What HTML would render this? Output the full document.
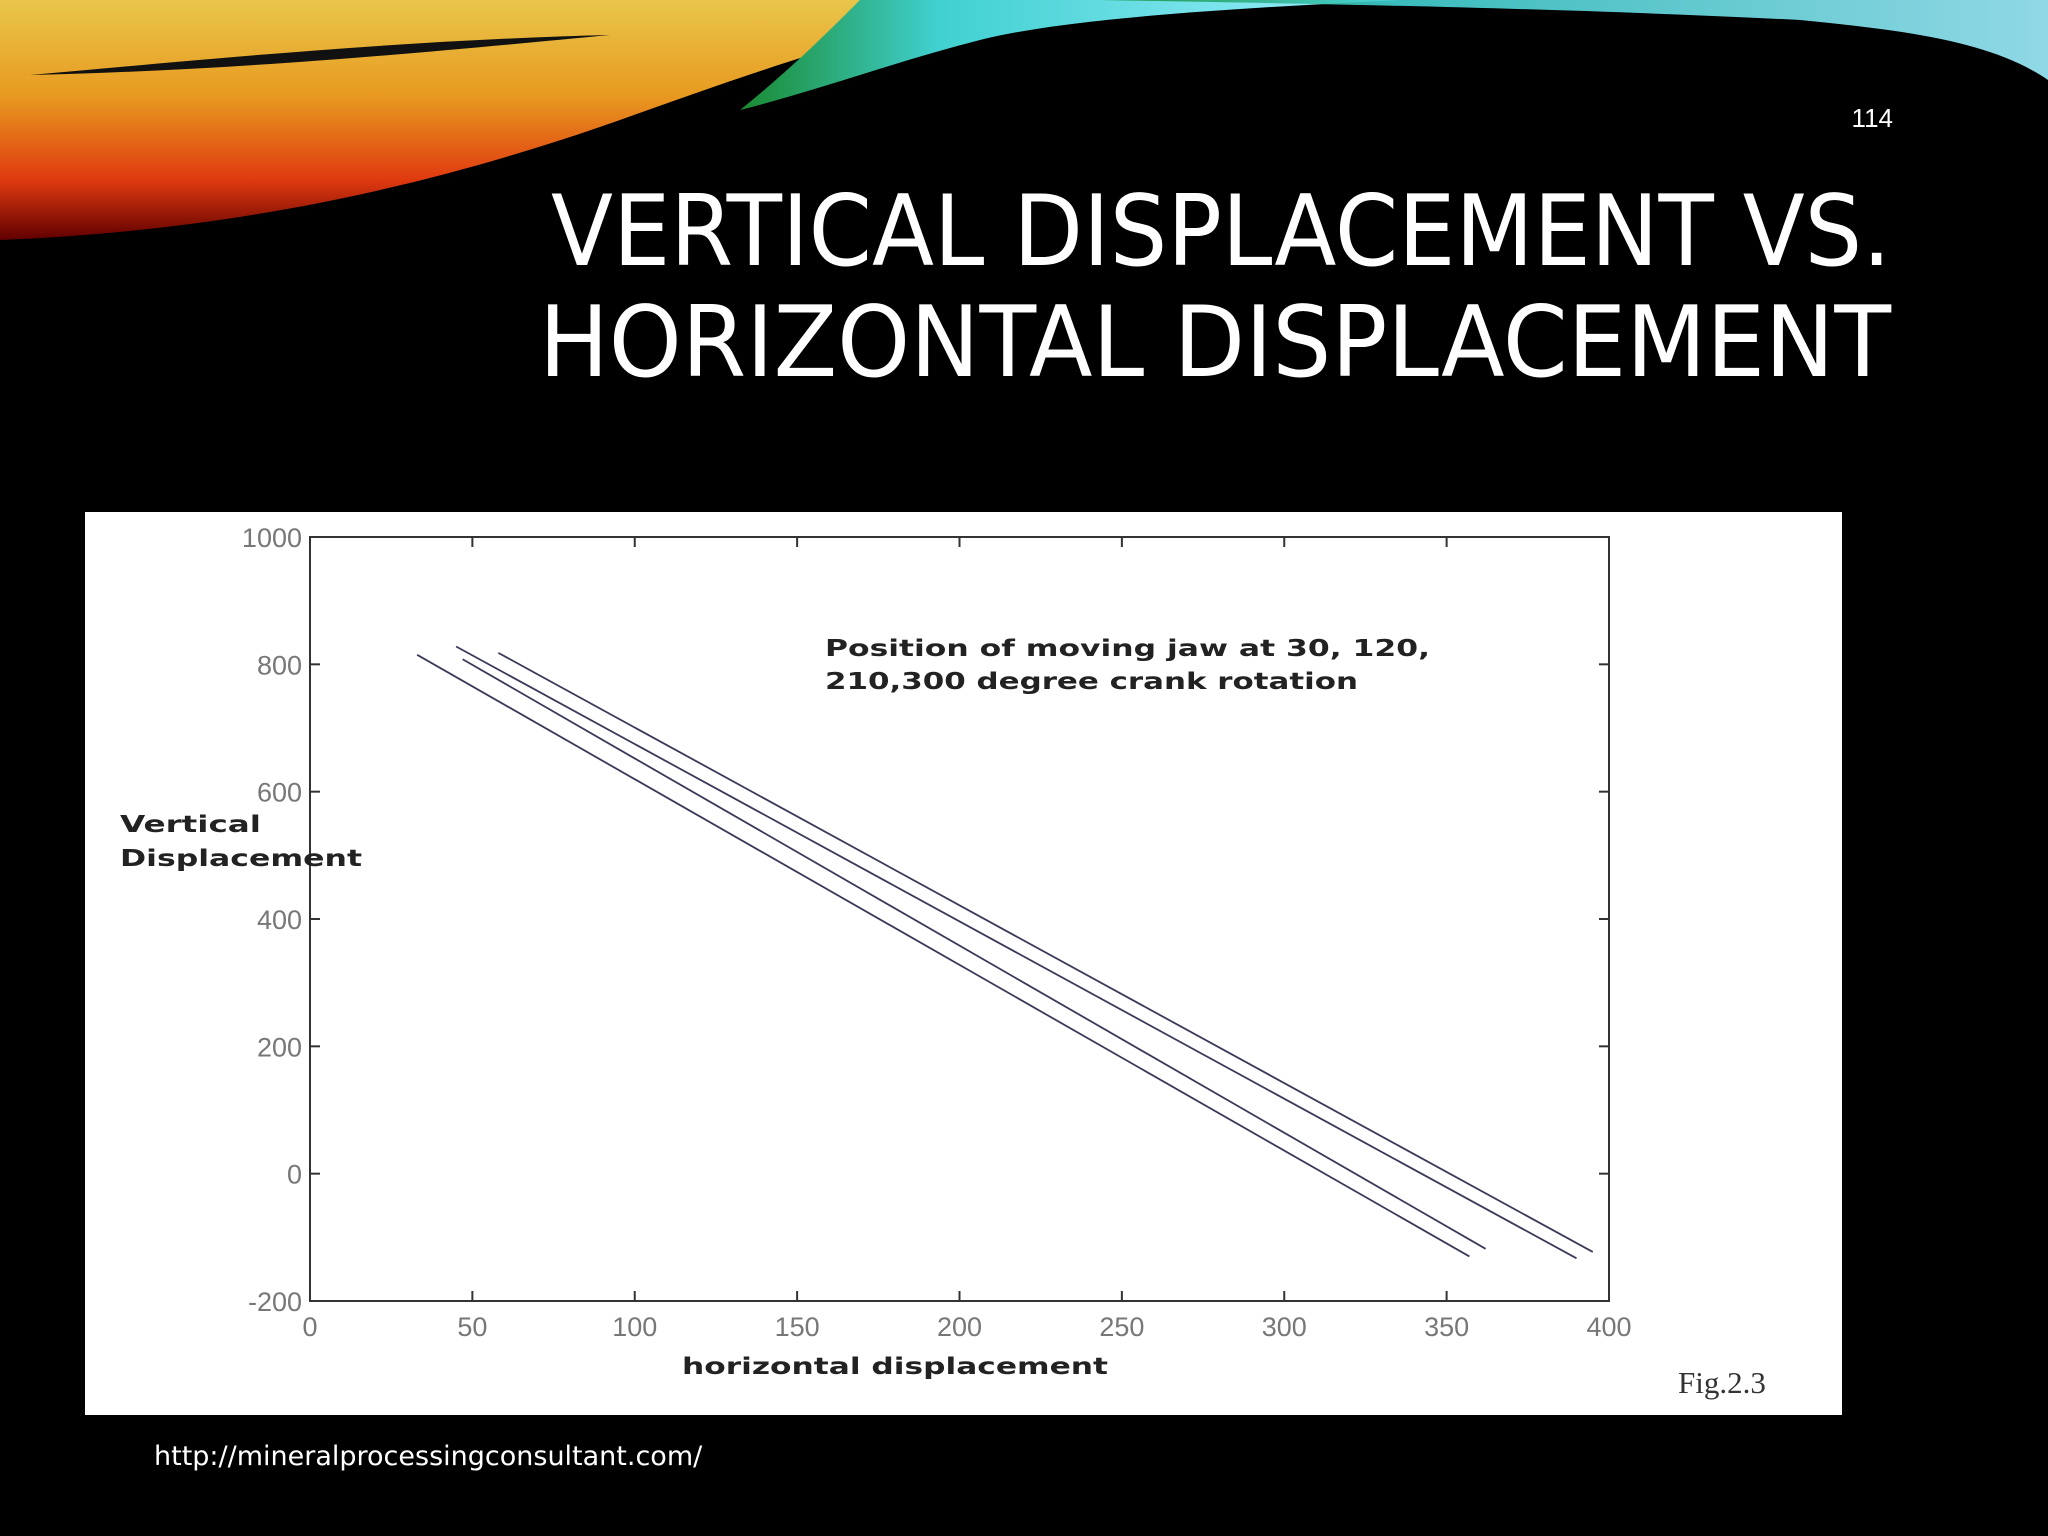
<!DOCTYPE html>
<html><head><meta charset="utf-8"><style>
html,body{margin:0;padding:0;background:#000;}
#root{position:relative;width:2048px;height:1536px;overflow:hidden;background:#000;font-family:"Liberation Sans",sans-serif;}
</style></head><body>
<div id="root">
<svg width="2048" height="1536" style="position:absolute;left:0;top:0">
<defs>
<linearGradient id="warm" x1="0" y1="0" x2="0" y2="1">
<stop offset="0" stop-color="#e8c64a"/><stop offset="0.4" stop-color="#e89a20"/><stop offset="0.75" stop-color="#e03a10"/><stop offset="1" stop-color="#600000"/></linearGradient>
<linearGradient id="cool" x1="0" y1="0" x2="1" y2="0">
<stop offset="0" stop-color="#1a8a30"/><stop offset="0.3" stop-color="#40d0d0"/><stop offset="1" stop-color="#a0f0ff"/></linearGradient>
</defs>
<g>
<path d="M0,0 L1040,0 C900,20 760,70 620,120 C450,180 250,230 0,240 Z" fill="url(#warm)"/>
<path d="M30,75 C200,60 400,40 610,35 C450,50 250,70 30,75 Z" fill="#111"/>
<path d="M860,0 L1400,0 C1200,10 1060,20 980,40 C900,60 820,90 740,110 C790,70 830,30 860,0 Z" fill="url(#cool)"/>
<path d="M1100,0 L2048,0 L2048,80 C1990,40 1900,30 1800,20 C1600,10 1400,5 1100,0 Z" fill="url(#cool)" opacity="0.9"/>
</g>
<text x="1893" y="127" font-family="Liberation Sans, sans-serif" font-size="26" fill="#fff" text-anchor="end">114</text>
<text x="1891" y="265" font-family="DejaVu Sans, sans-serif" font-size="98" fill="#fff" text-anchor="end" textLength="1340" lengthAdjust="spacingAndGlyphs">VERTICAL DISPLACEMENT VS.</text>
<text x="1891" y="376" font-family="DejaVu Sans, sans-serif" font-size="98" fill="#fff" text-anchor="end" textLength="1352" lengthAdjust="spacingAndGlyphs">HORIZONTAL DISPLACEMENT</text>
<rect x="85" y="512" width="1757" height="903" fill="#fff"/>
<g id="chart"></g>
<text x="154" y="1465" font-family="DejaVu Sans, sans-serif" font-size="27" fill="#fff">http://mineralprocessingconsultant.com/</text>
</svg>
</div>
<script>
const xTicks=[0,50,100,150,200,250,300,350,400];
const yTicks=[-200,0,200,400,600,800,1000];
const seriesNames=['crank-30','crank-120','crank-210','crank-300'];
const xStart=[33,47,45,58];
const yStart=[815,808,828,818];
const xEnd=[357,362,390,395];
const yEnd=[-130,-118,-133,-123];
const NS='http://www.w3.org/2000/svg';
const L=310,R=1609,T=537,B=1301;
const sx=v=>L+(v-0)/400*(R-L);
const sy=v=>B-(v+200)/1200*(B-T);
const g=document.getElementById('chart');
function el(tag,attrs,parent){const e=document.createElementNS(NS,tag);for(const k in attrs)e.setAttribute(k,attrs[k]);(parent||g).appendChild(e);return e;}
const frame=el('rect',{x:L,y:T,width:R-L,height:B-T,fill:'none',stroke:'#333','stroke-width':2});


xTicks.forEach(v=>{
 const x=sx(v);
 const t1=el('line',{x1:x,x2:x,y1:B,y2:B-10,stroke:'#333','stroke-width':2});
 
 
 const t2=el('line',{x1:x,x2:x,y1:T,y2:T+10,stroke:'#333','stroke-width':2});
 
 
 const tx=el('text',{x:x,y:B+35,'font-size':27,fill:'#777','text-anchor':'middle','font-family':'Liberation Sans, sans-serif'});
 tx.textContent=v;
 
 
});
yTicks.forEach(v=>{
 const y=sy(v);
 const t1=el('line',{x1:L,x2:L+10,y1:y,y2:y,stroke:'#333','stroke-width':2});
 
 
 const t2=el('line',{x1:R,x2:R-10,y1:y,y2:y,stroke:'#333','stroke-width':2});
 
 
 const tx=el('text',{x:L-8,y:y+10,'font-size':27,fill:'#777','text-anchor':'end','font-family':'Liberation Sans, sans-serif'});
 tx.textContent=v;
 
 
});
seriesNames.forEach((n,i)=>{
 const ln=el('line',{x1:sx(xStart[i]),y1:sy(yStart[i]),x2:sx(xEnd[i]),y2:sy(yEnd[i]),stroke:'#3a3a5a','stroke-width':1.8});
 
 
});
function txt(s,x,y,attrs,name){const t=el('text',Object.assign({x:x,y:y,'font-family':'DejaVu Sans, sans-serif','font-weight':'bold',fill:'#222','font-size':23,lengthAdjust:'spacingAndGlyphs'},attrs));t.textContent=s;return t;}
txt('Position of moving jaw at 30, 120,',825,656,{textLength:605},'annotation-line1');
txt('210,300 degree crank rotation',825,689,{textLength:533},'annotation-line2');
txt('Vertical',120,832,{textLength:141},'y-axis-title-line1');
txt('Displacement',120,866,{textLength:242},'y-axis-title-line2');
txt('horizontal displacement',682,1374,{textLength:426},'x-axis-title');
const fig=el('text',{x:1678,y:1393,'font-size':31,fill:'#333','font-family':'Liberation Serif, serif'});
fig.textContent='Fig.2.3';


</script>
</body></html>
